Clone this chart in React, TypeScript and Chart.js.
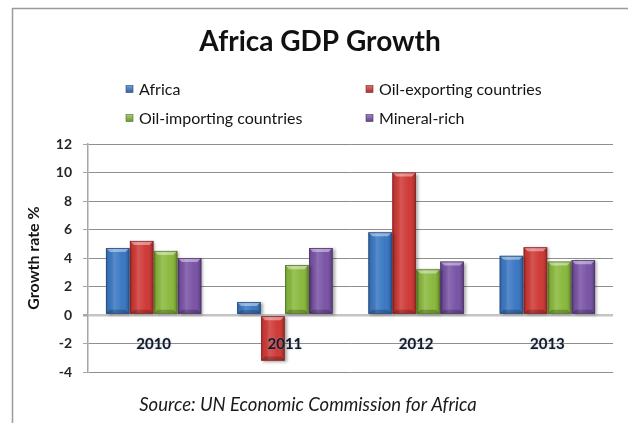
import React, { useEffect, useRef } from 'react';
import { Chart, registerables } from 'chart.js';

Chart.register(...registerables);

const categories = ['2010', '2011', '2012', '2013'];
const seriesNames = ['Africa', 'Oil-exporting countries', 'Oil-importing countries', 'Mineral-rich'];
const africa = [4.7, 0.9, 5.8, 4.15];
const oilExporting = [5.2, -3.2, 10.0, 4.75];
const oilImporting = [4.5, 3.5, 3.2, 3.75];
const mineralRich = [4.0, 4.7, 3.75, 3.85];
const yTicks = [-4, -2, 0, 2, 4, 6, 8, 10, 12];
const chartTitle = 'Africa GDP Growth';
const yAxisTitle = 'Growth rate %';
const sourceNote = 'Source: UN Economic Commission for Africa';
const categoryLabelLevel = -2;
const seriesColors = ['#3b78c3', '#cf3a37', '#8ab93d', '#7a54a6'];

const FONT = 'Lato, "Open Sans", sans-serif';

function shade(hex: string, amt: number) {
  const n = parseInt(hex.slice(1), 16);
  let r = (n >> 16) & 255, g = (n >> 8) & 255, b = n & 255;
  const f = (c: number) => Math.max(0, Math.min(255, Math.round(amt < 0 ? c * (1 + amt) : c + (255 - c) * amt)));
  return `rgb(${f(r)},${f(g)},${f(b)})`;
}

function drawBevelBox(ctx: CanvasRenderingContext2D, left: number, top: number, right: number, bottom: number, color: string) {
  const w = right - left;
  const h = bottom - top;
  if (w <= 0 || h <= 0) return;
  ctx.save();
  const g = ctx.createLinearGradient(left, 0, right, 0);
  g.addColorStop(0, 'rgba(0,0,0,0.22)');
  g.addColorStop(0.12, 'rgba(0,0,0,0.04)');
  g.addColorStop(0.35, 'rgba(255,255,255,0.14)');
  g.addColorStop(0.7, 'rgba(255,255,255,0)');
  g.addColorStop(0.88, 'rgba(0,0,0,0.08)');
  g.addColorStop(1, 'rgba(0,0,0,0.3)');
  ctx.fillStyle = g;
  ctx.fillRect(left, top, w, h);
  const bv = Math.min(4, h / 3, w / 4);
  ctx.beginPath();
  ctx.moveTo(left, top);
  ctx.lineTo(right, top);
  ctx.lineTo(right - bv, top + bv);
  ctx.lineTo(left + bv, top + bv);
  ctx.closePath();
  ctx.fillStyle = 'rgba(255,255,255,0.42)';
  ctx.fill();
  ctx.beginPath();
  ctx.moveTo(left, bottom);
  ctx.lineTo(right, bottom);
  ctx.lineTo(right - bv, bottom - bv);
  ctx.lineTo(left + bv, bottom - bv);
  ctx.closePath();
  ctx.fillStyle = 'rgba(0,0,0,0.22)';
  ctx.fill();
  ctx.strokeStyle = shade(color, -0.35);
  ctx.lineWidth = 0.8;
  ctx.strokeRect(left + 0.4, top + 0.4, w - 0.8, h - 0.8);
  ctx.restore();
}

const decorPlugin = {
  id: 'decor',
  beforeDraw(chart: any) {
    const ctx = chart.ctx as CanvasRenderingContext2D;
    ctx.save();
    ctx.fillStyle = '#ffffff';
    ctx.fillRect(0, 0, chart.width, chart.height);
    ctx.strokeStyle = '#9a9a9a';
    ctx.lineWidth = 1.5;
    ctx.beginPath();
    ctx.moveTo(12.5, chart.height);
    ctx.lineTo(12.5, 8.5);
    ctx.lineTo(chart.width, 8.5);
    ctx.stroke();
    ctx.restore();
  },
  beforeDatasetsDraw(chart: any) {
    const ctx = chart.ctx as CanvasRenderingContext2D;
    ctx.save();
    ctx.shadowColor = 'rgba(0,0,0,0.35)';
    ctx.shadowBlur = 3;
    ctx.shadowOffsetX = 2;
    ctx.shadowOffsetY = 1;
  },
  afterDatasetsDraw(chart: any) {
    const ctx = chart.ctx as CanvasRenderingContext2D;
    ctx.restore();
    chart.data.datasets.forEach((ds: any, di: number) => {
      const meta = chart.getDatasetMeta(di);
      meta.data.forEach((el: any) => {
        const { x, y, base, width } = el.getProps(['x', 'y', 'base', 'width'], true);
        drawBevelBox(ctx, x - width / 2, Math.min(y, base), x + width / 2, Math.max(y, base), seriesColors[di]);
      });
    });
    const xs = chart.scales.x;
    const ys = chart.scales.y;
    ctx.save();
    ctx.font = `bold 15px ${FONT}`;
    ctx.fillStyle = '#1a1a1a';
    ctx.textAlign = 'center';
    ctx.textBaseline = 'middle';
    ctx.shadowColor = 'rgba(120,160,230,0.7)';
    ctx.shadowBlur = 2;
    categories.forEach((c, i) => {
      ctx.fillText(c, xs.getPixelForValue(i), ys.getPixelForValue(categoryLabelLevel) + 1);
    });
    ctx.restore();
  },
  afterDraw(chart: any) {
    const ctx = chart.ctx as CanvasRenderingContext2D;
    ctx.save();
    ctx.font = `bold 28px ${FONT}`;
    ctx.fillStyle = '#111111';
    ctx.textAlign = 'center';
    ctx.textBaseline = 'middle';
    ctx.fillText(chartTitle, 320, 42);
    const colX = [126, 366];
    const rowY = [89, 118];
    ctx.font = `16px ${FONT}`;
    ctx.textAlign = 'left';
    chart.data.datasets.forEach((ds: any, i: number) => {
      const mx = colX[i % 2];
      const my = rowY[Math.floor(i / 2)];
      const g = ctx.createLinearGradient(mx, my - 4, mx, my + 4);
      g.addColorStop(0, shade(seriesColors[i], 0.3));
      g.addColorStop(1, shade(seriesColors[i], -0.2));
      ctx.fillStyle = g;
      ctx.fillRect(mx, my - 3.5, 7, 7);
      ctx.strokeStyle = shade(seriesColors[i], -0.4);
      ctx.lineWidth = 0.6;
      ctx.strokeRect(mx, my - 3.5, 7, 7);
      ctx.fillStyle = '#141414';
      ctx.fillText(ds.label, mx + 13, my + 1);
    });
    ctx.font = `italic 18.5px ${FONT}`;
    ctx.textAlign = 'center';
    ctx.fillStyle = '#1a1a1a';
    ctx.fillText(sourceNote, 308, 405);
    ctx.restore();
  },
};

export default function App() {
  const ref = useRef<HTMLCanvasElement | null>(null);
  useEffect(() => {
    if (!ref.current) return;
    const seriesData = [africa, oilExporting, oilImporting, mineralRich];
    const chart = new Chart(ref.current, {
      type: 'bar',
      data: {
        labels: categories,
        datasets: seriesNames.map((name, i) => ({
          label: name,
          data: seriesData[i],
          backgroundColor: seriesColors[i],
          borderWidth: 0,
          categoryPercentage: 0.73,
          barPercentage: 0.98,
        })),
      },
      options: {
        animation: false,
        responsive: false,
        devicePixelRatio: 1,
        layout: { padding: { top: 144, right: 15, bottom: 51, left: 0 } },
        plugins: {
          legend: { display: false },
          title: { display: false },
          tooltip: { enabled: false },
        },
        scales: {
          x: { display: false, offset: true },
          y: {
            min: yTicks[0],
            max: yTicks[yTicks.length - 1],
            afterFit: (scale: any) => { scale.width = 88; },
            afterBuildTicks: (scale: any) => { scale.ticks = yTicks.map((v) => ({ value: v })); },
            ticks: {
              stepSize: 2,
              padding: 11,
              color: '#262626',
              font: { family: FONT, size: 14, weight: 'bold' },
            },
            title: {
              display: true,
              text: yAxisTitle,
              color: '#141414',
              font: { family: FONT, size: 16, weight: 'bold' },
              padding: { top: 24, bottom: 0 },
            },
            border: { display: true, color: '#a6a6a6', width: 1.5 },
            grid: {
              drawTicks: true,
              tickLength: 5,
              tickColor: '#a6a6a6',
              tickBorderDash: [],
              color: (c: any) => (c.tick && c.tick.value === 0 ? '#c4c4c4' : '#8e8e8e'),
              lineWidth: (c: any) => (c.tick && c.tick.value === 0 ? 2.5 : 1),
              borderDash: (c: any) => (c.tick && c.tick.value === 0 ? [] : [1, 1]),
            },
          },
        },
      },
      plugins: [decorPlugin],
    } as any);
    return () => chart.destroy();
  }, []);
  return (
    <div style={{ position: 'fixed', left: 0, top: 0, width: 628, height: 423, background: '#fff' }}>
      <canvas ref={ref} width={628} height={423} style={{ display: 'block' }} />
    </div>
  );
}
